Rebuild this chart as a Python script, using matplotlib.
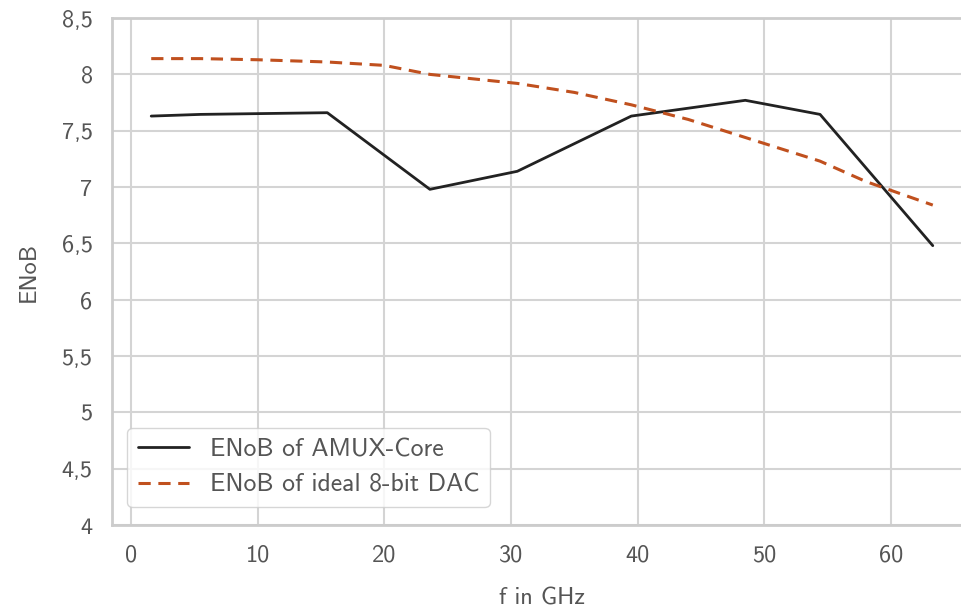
import matplotlib
matplotlib.use("Agg")
import matplotlib.pyplot as plt
import seaborn as sns

f_amux = [1.6, 5.5, 15.5, 23.6, 30.5, 39.5, 48.5, 54.4, 63.3]
enob_amux = [7.63, 7.645, 7.66, 6.98, 7.14, 7.63, 7.77, 7.645, 6.48]

f_dac = [1.6, 5.5, 10, 15.5, 20, 23.6, 30.5, 35, 39.5, 44, 48.5, 54.4, 58, 63.3]
enob_dac = [8.14, 8.14, 8.13, 8.11, 8.08, 8.00, 7.92, 7.84, 7.73, 7.60, 7.44, 7.23, 7.05, 6.84]

yticks = [4, 4.5, 5, 5.5, 6, 6.5, 7, 7.5, 8, 8.5]
ytick_labels = ["4", "4,5", "5", "5,5", "6", "6,5", "7", "7,5", "8", "8,5"]
xticks = [0, 10, 20, 30, 40, 50, 60]

sns.set_theme(style="whitegrid")
plt.rcParams['font.family'] = ['cmss10', 'DejaVu Sans']
plt.rcParams['axes.unicode_minus'] = False

fig = plt.figure(figsize=(9.61, 6.12), dpi=100)
ax = fig.add_axes([0.1165, 0.142, 0.895, 0.8285])

ax.plot(f_amux, enob_amux, color="#222222", lw=2, label="ENoB of AMUX-Core")
ax.plot(f_dac, enob_dac, color="#c0501e", lw=2.2, ls="--", dashes=(4, 2.5),
        label="ENoB of ideal 8-bit DAC")

txt = "#555555"
ax.set_xlim(-1.5, 66.4)
ax.set_ylim(4, 8.5)
ax.set_xticks(xticks)
ax.set_yticks(yticks)
ax.set_yticklabels(ytick_labels)
ax.tick_params(labelsize=17.5, colors=txt, pad=8)
ax.set_xlabel("f in GHz", fontsize=17.5, color=txt, labelpad=15)
ax.set_ylabel("ENoB", fontsize=17.5, color=txt, labelpad=16)

for s in ax.spines.values():
    s.set_color("#cccccc")
    s.set_linewidth(2)
ax.grid(color="#d4d4d4", lw=1.5)

leg = ax.legend(loc="lower left", fontsize=18.5, frameon=True,
                bbox_to_anchor=(0.003, 0.01), handlelength=2.0)
for t in leg.get_texts():
    t.set_color(txt)

fig.savefig("out.png", dpi=100)
